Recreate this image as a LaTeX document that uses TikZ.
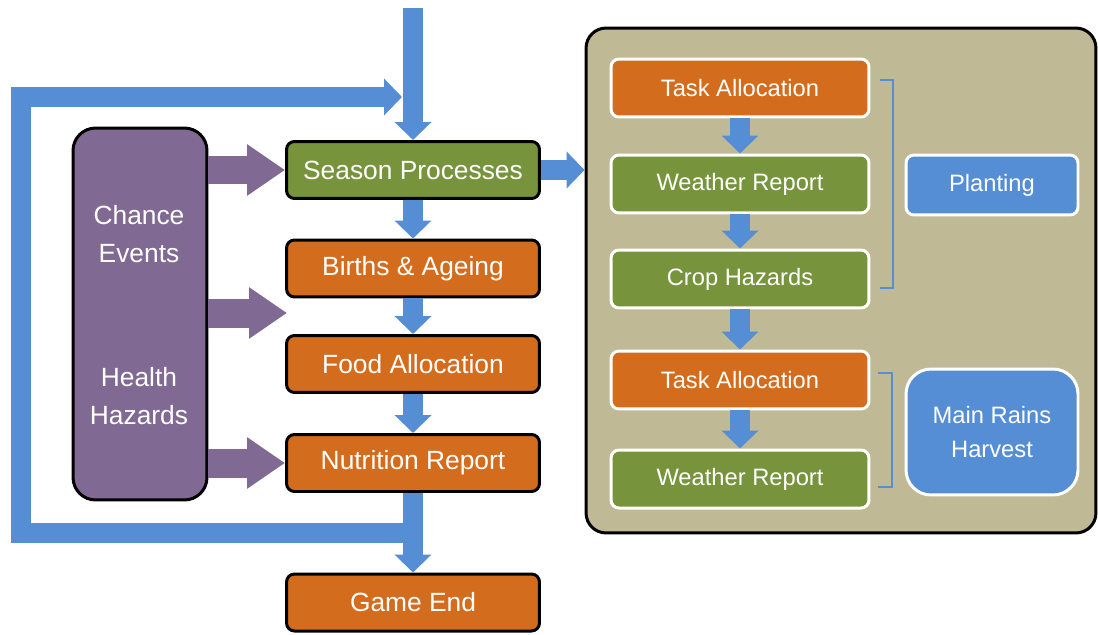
\documentclass[tikz,border=0pt]{standalone}
\usepackage{fontspec}
\setmainfont{Liberation Sans}
\usetikzlibrary{arrows.meta}
\definecolor{flowblue}{RGB}{85,142,213}
\definecolor{boxgreen}{RGB}{119,147,60}
\definecolor{boxorange}{RGB}{212,108,30}
\definecolor{eventpurple}{RGB}{128,106,147}
\definecolor{paneltan}{RGB}{191,185,150}
\begin{document}
\begin{tikzpicture}[x=0.02cm,y=-0.02cm,
	stage/.style={draw=black,line width=0.06cm,rounded corners=0.16cm,minimum width=5.06cm,minimum height=1.14cm,inner sep=0,text=white,font=\fontsize{15}{18}\selectfont},
	substage/.style={draw=white,line width=0.06cm,rounded corners=0.16cm,minimum width=5.16cm,minimum height=1.16cm,inner sep=0,text=white,font=\fontsize{13.5}{16}\selectfont},
	phase/.style={substage,fill=flowblue,minimum width=3.44cm,minimum height=1.2cm},
	flow/.style={draw=flowblue,line width=0.4cm,-{Triangle[length=0.36cm,width=0.72cm]}},
	push/.style={draw=eventpurple,line width=0.58cm,-{Triangle[length=0.76cm,width=0.98cm]}}]
			\useasboundingbox (0,0) rectangle (1098,635);
			\node[draw=black,line width=0.06cm,fill=paneltan,rounded corners=0.4cm,minimum width=10.2cm,minimum height=10.1cm,inner sep=0] (panel) at (841,280.5) {};
			\node[draw=black,line width=0.06cm,fill=eventpurple,rounded corners=0.45cm,minimum width=2.68cm,minimum height=7.44cm,inner sep=0] (events) at (140,314) {};
			\node[text=white,align=center,font=\fontsize{15}{22}\selectfont] (chance) at (139,234) {Chance\\Events};
			\node[text=white,align=center,font=\fontsize{15}{22}\selectfont] (health) at (139,396) {Health\\Hazards};
			\node[stage,fill=boxgreen] (season) at (413,170) {Season Processes};
			\node[stage,fill=boxorange] (births) at (413,268.5) {Births \& Ageing};
			\node[stage,fill=boxorange] (food) at (413,364) {Food Allocation};
			\node[stage,fill=boxorange] (nutrition) at (413,463) {Nutrition Report};
			\node[stage,fill=boxorange] (gameend) at (413,602.5) {Game End};
			\node[substage,fill=boxorange] (task1) at (740,88) {Task Allocation};
			\node[substage,fill=boxgreen] (weather1) at (740,184) {Weather Report};
			\node[substage,fill=boxgreen] (crop) at (740,279) {Crop Hazards};
			\node[substage,fill=boxorange] (task2) at (740,380) {Task Allocation};
			\node[substage,fill=boxgreen] (weather2) at (740,479) {Weather Report};
			\node[phase] (planting) at (992,185) {Planting};
			\node[phase,minimum height=2.52cm,rounded corners=0.5cm,align=center,font=\fontsize{13.5}{19}\selectfont] (harvest) at (992,432) {Main Rains\\Harvest};
			\coordinate (top) at (413,8);
			\coordinate (branch) at (413,533);
			\coordinate (loopend) at (402,97);
			\coordinate (mid) at (287,313);
			\draw[flow] (top) -- (season.north);
			\foreach \a/\b in {season/births,births/food,food/nutrition,nutrition/gameend,task1/weather1,weather1/crop,crop/task2,task2/weather2}
			\draw[flow] (\a.south) -- (\b.north);
			\draw[flow,line join=miter] (branch) -- (21,533) -- (21,97) -- (loopend);
			\draw[flow] (season.east) -- (panel.west |- season.east);
			\draw[push] (events.east |- season.west) -- (season.west);
			\draw[push] (events.east |- mid) -- (mid);
			\draw[push] (events.east |- nutrition.west) -- (nutrition.west);
			\draw[flowblue,line width=0.04cm] (880,80) -- (893,80) -- (893,288) -- (880,288);
			\draw[flowblue,line width=0.04cm] (878,373) -- (892,373) -- (892,487) -- (878,487);
		\end{tikzpicture}
\end{document}
